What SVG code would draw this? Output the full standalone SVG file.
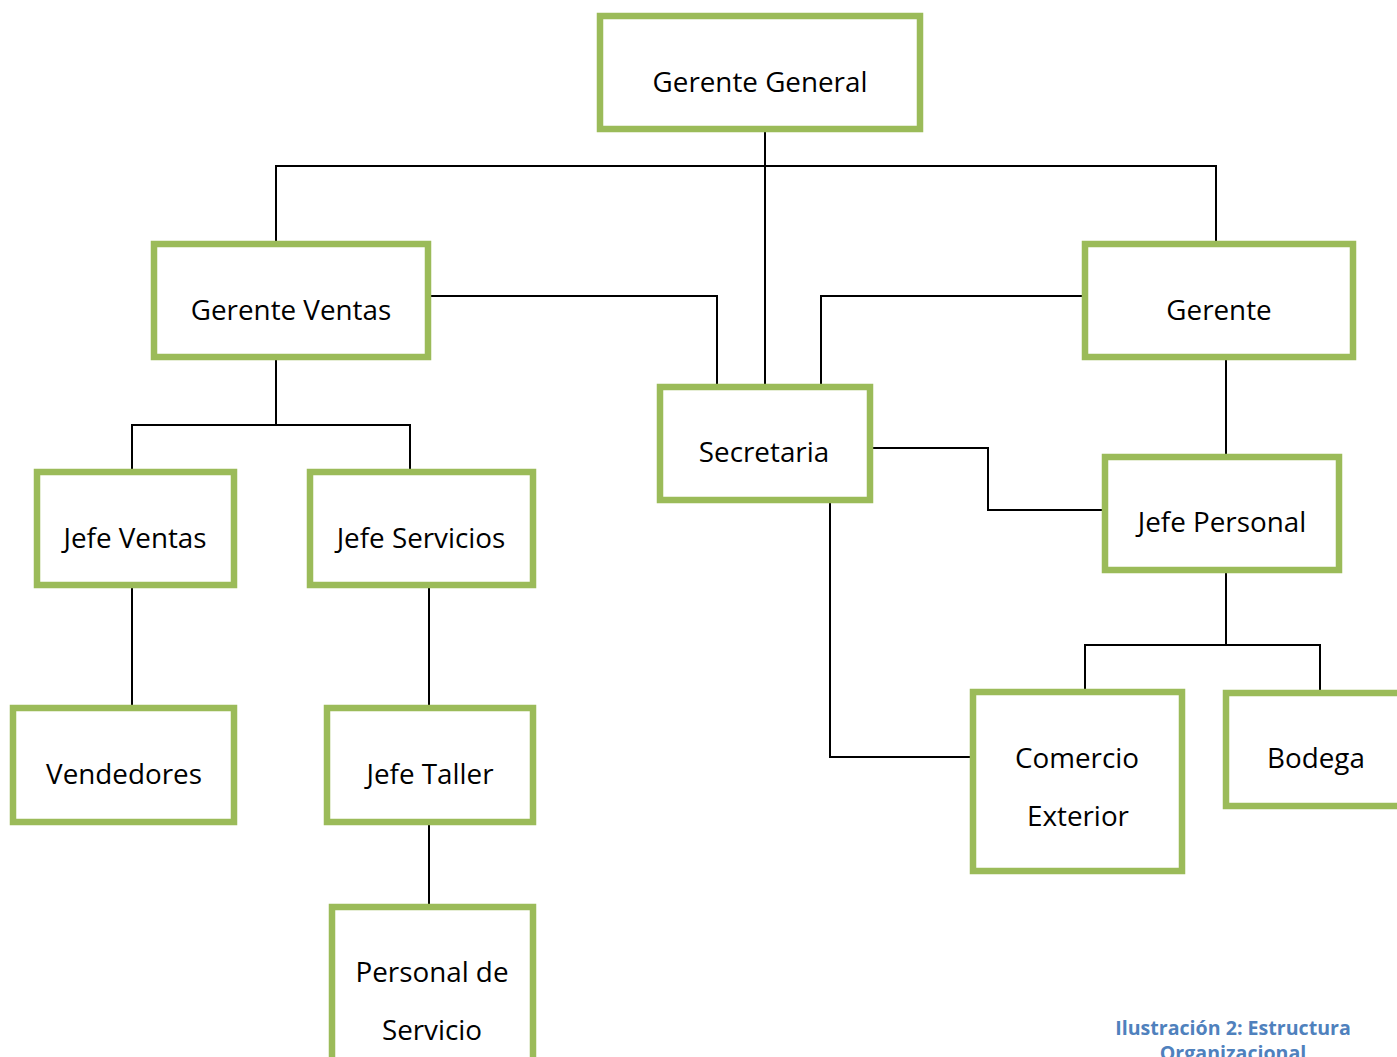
<svg xmlns="http://www.w3.org/2000/svg" width="1397" height="1057" viewBox="0 0 1397 1057">
<style>
.box{fill:#fff;stroke:#9BBB59;stroke-width:6.5}
.lbl{font-family:"Open Sans","Liberation Sans",sans-serif;font-size:27.8px;fill:#000;text-anchor:middle}
.conn{fill:none;stroke:#000;stroke-width:2}
.cap{font-family:"Open Sans","Liberation Sans",sans-serif;font-size:19.6px;font-weight:bold;fill:#4F81BD;text-anchor:middle}
</style>
<rect width="1397" height="1057" fill="#fff"/>
<g id="connectors">
<path class="conn" d="M765,132 V386"/>
<path class="conn" d="M276,244 V166 H1216 V244"/>
<path class="conn" d="M428,296 H717 V386 H821 V296 H1085"/>
<path class="conn" d="M276,360 V425 M132,472 V425 H410 V472"/>
<path class="conn" d="M132,588 V708"/>
<path class="conn" d="M429,588 V708"/>
<path class="conn" d="M429,825 V907"/>
<path class="conn" d="M1226,360 V457"/>
<path class="conn" d="M870,448 H988 V510 H1105"/>
<path class="conn" d="M830,500 V757 H973"/>
<path class="conn" d="M1226,573 V645 M1085,692 V645 H1320 V693"/>
</g>
<g id="gerente-general"><rect class="box" x="600" y="16" width="320" height="113"/><text class="lbl" x="760" y="92">Gerente General</text></g>
<g id="gerente-ventas"><rect class="box" x="154" y="244" width="274" height="113"/><text class="lbl" x="291" y="320">Gerente Ventas</text></g>
<g id="gerente"><rect class="box" x="1085" y="244" width="268" height="113"/><text class="lbl" x="1219" y="320">Gerente</text></g>
<g id="secretaria"><rect class="box" x="660" y="387" width="210" height="113"/><text class="lbl" x="764" y="462">Secretaria</text></g>
<g id="jefe-ventas"><rect class="box" x="37" y="472" width="197" height="113"/><text class="lbl" x="135" y="548">Jefe Ventas</text></g>
<g id="jefe-servicios"><rect class="box" x="310" y="472" width="223" height="113"/><text class="lbl" x="421" y="548">Jefe Servicios</text></g>
<g id="jefe-personal"><rect class="box" x="1105" y="457" width="234" height="113"/><text class="lbl" x="1222" y="532">Jefe Personal</text></g>
<g id="vendedores"><rect class="box" x="13" y="708" width="221" height="114"/><text class="lbl" x="124" y="784">Vendedores</text></g>
<g id="jefe-taller"><rect class="box" x="327" y="708" width="206" height="114"/><text class="lbl" x="430" y="784">Jefe Taller</text></g>
<g id="comercio-exterior"><rect class="box" x="973" y="692" width="209" height="179"/><text class="lbl" x="1077" y="768">Comercio</text><text class="lbl" x="1078" y="826">Exterior</text></g>
<g id="bodega"><rect class="box" x="1226" y="693" width="180" height="113"/><text class="lbl" x="1316" y="768">Bodega</text></g>
<g id="personal-servicio"><rect class="box" x="332" y="907" width="201" height="200"/><text class="lbl" x="432" y="982">Personal de</text><text class="lbl" x="432" y="1040">Servicio</text></g>
<g id="caption"><text class="cap" x="1233" y="1035">Ilustración 2: Estructura</text><text class="cap" x="1233" y="1060">Organizacional</text></g>
</svg>
